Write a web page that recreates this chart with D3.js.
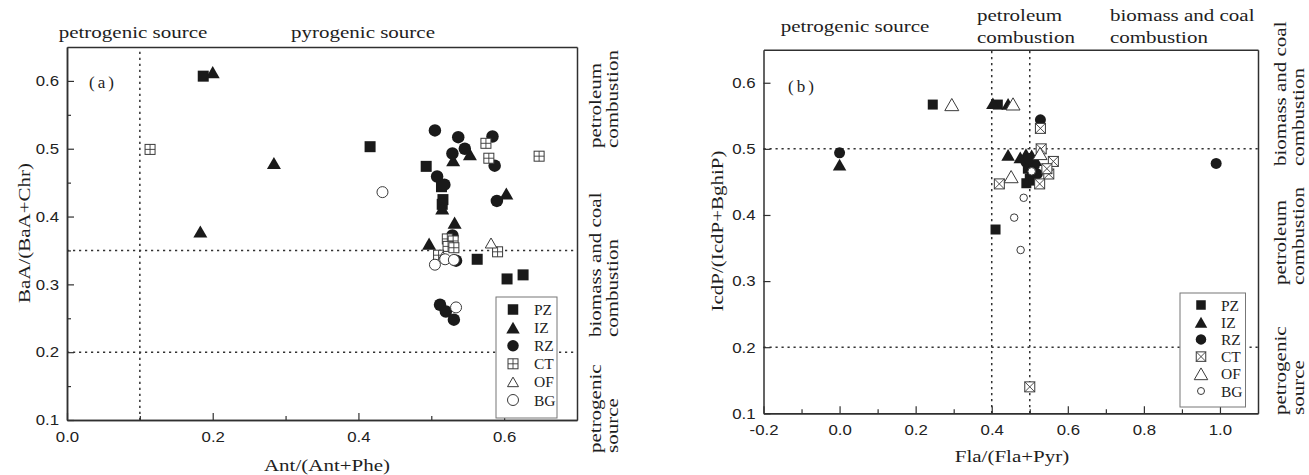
<!DOCTYPE html>
<html><head><meta charset="utf-8">
<script src="https://cdn.jsdelivr.net/npm/d3@7"></script>
<style>body{margin:0;background:#fff}</style>
</head><body>
<svg id="c" width="1309" height="475"></svg>
<script>
// ---------- DATA ----------
const seriesNames = ["PZ", "IZ", "RZ", "CT", "OF", "BG"];

// Panel (a): Ant/(Ant+Phe) vs BaA/(BaA+Chr)
const aPZ = [[0.187,0.607],[0.416,0.503],[0.493,0.474],[0.514,0.444],[0.516,0.425],[0.515,0.418],[0.563,0.337],[0.604,0.308],[0.626,0.314]];
const aIZ = [[0.200,0.613],[0.284,0.479],[0.183,0.378],[0.530,0.483],[0.553,0.492],[0.603,0.434],[0.515,0.412],[0.532,0.391],[0.497,0.360]];
const aRZ = [[0.505,0.527],[0.537,0.517],[0.584,0.518],[0.529,0.493],[0.546,0.500],[0.587,0.475],[0.508,0.459],[0.518,0.447],[0.590,0.423],[0.529,0.372],[0.534,0.335],[0.512,0.270],[0.520,0.260],[0.531,0.248]];
const aCT = [[0.114,0.499],[0.575,0.508],[0.579,0.486],[0.648,0.489],[0.522,0.367],[0.530,0.364],[0.523,0.356],[0.531,0.354],[0.591,0.348],[0.510,0.343]];
const aOF = [[0.582,0.361],[0.516,0.341]];
const aBG = [[0.433,0.436],[0.505,0.329],[0.519,0.337],[0.531,0.336],[0.534,0.266]];

// Panel (b): Fla/(Fla+Pyr) vs IcdP/(IcdP+BghiP)
const bPZ = [[0.245,0.567],[0.416,0.567],[0.410,0.378],[0.491,0.448],[0.500,0.455],[0.510,0.452],[0.495,0.470]];
const bIZ = [[0.000,0.476],[0.403,0.569],[0.443,0.568],[0.443,0.491],[0.475,0.487],[0.490,0.492],[0.505,0.490],[0.515,0.483]];
const bRZ = [[0.000,0.494],[0.528,0.544],[0.990,0.478],[0.490,0.480],[0.500,0.472],[0.512,0.475],[0.505,0.466],[0.520,0.462],[0.498,0.485]];
const bCT = [[0.528,0.531],[0.530,0.500],[0.562,0.481],[0.550,0.462],[0.526,0.447],[0.420,0.447],[0.500,0.140],[0.545,0.470]];
const bOF = [[0.295,0.567],[0.456,0.568],[0.527,0.493],[0.451,0.458]];
const bBG = [[0.505,0.466],[0.484,0.426],[0.459,0.396],[0.476,0.347]];

// ticks
const aXTicks = [0, 0.2, 0.4, 0.6], aXMinor = [0.1, 0.3, 0.5];
const aYTicks = [0.1, 0.2, 0.3, 0.4, 0.5, 0.6], aYMinor = [0.15, 0.25, 0.35, 0.45, 0.55];
const bXTicks = [-0.2, 0, 0.2, 0.4, 0.6, 0.8, 1.0], bXMinor = [-0.1, 0.1, 0.3, 0.5, 0.7, 0.9];
const bYTicks = [0.1, 0.2, 0.3, 0.4, 0.5, 0.6];

// reference lines
const aVRef = [0.1], aHRef = [0.35, 0.2];
const bVRef = [0.4, 0.5], bHRef = [0.5, 0.2];

// ---------- DRAW ----------
const svg = d3.select("#c");
const INK = "#1a1a1a", EDGE = "#3a3a3a", AX = "#303030";
const SERIF = "'Liberation Serif','Times New Roman',serif";
const SANS = "'Liberation Sans',Arial,sans-serif";
const FS = 17.5, ST = 1.2;

function label(g, txt, x, y, o = {}) {
  const rot = o.rot || 0, st = o.st || ST, size = o.size || FS;
  g.append("text").text(txt)
    .attr("transform", `translate(${x},${y}) rotate(${rot}) scale(${st},1)`)
    .attr("text-anchor", o.anchor || "start")
    .attr("letter-spacing", o.ls || 0)
    .attr("font-family", o.font || SERIF).attr("font-size", size).attr("fill", "#1e1e1e");
}

function marker(g, type, cx, cy, s) {
  if (type === "square") {
    g.append("rect").attr("x", cx - s/2).attr("y", cy - s/2).attr("width", s).attr("height", s).attr("fill", INK);
  } else if (type === "triangle" || type === "otri") {
    const h = s * 0.87;
    const p = `M${cx},${cy - h/2}L${cx + s/2},${cy + h/2}L${cx - s/2},${cy + h/2}Z`;
    if (type === "triangle") g.append("path").attr("d", p).attr("fill", INK);
    else g.append("path").attr("d", p).attr("fill", "#fff").attr("stroke", EDGE).attr("stroke-width", 1);
  } else if (type === "circle") {
    g.append("circle").attr("cx", cx).attr("cy", cy).attr("r", s/2).attr("fill", INK);
  } else if (type === "ocircle") {
    g.append("circle").attr("cx", cx).attr("cy", cy).attr("r", s/2 - 0.5).attr("fill", "#fff").attr("stroke", EDGE).attr("stroke-width", 1);
  } else if (type === "sqplus" || type === "sqx") {
    g.append("rect").attr("x", cx - s/2).attr("y", cy - s/2).attr("width", s).attr("height", s)
      .attr("fill", "#fff").attr("stroke", EDGE).attr("stroke-width", 1);
    const d = type === "sqplus"
      ? `M${cx},${cy - s/2}V${cy + s/2}M${cx - s/2},${cy}H${cx + s/2}`
      : `M${cx - s/2},${cy - s/2}L${cx + s/2},${cy + s/2}M${cx + s/2},${cy - s/2}L${cx - s/2},${cy + s/2}`;
    g.append("path").attr("d", d).attr("stroke", EDGE).attr("stroke-width", 0.9).attr("fill", "none");
  }
}

function panel(cfg) {
  const { x, y } = cfg;
  const g = svg.append("g");
  const [x0, x1] = x.range(), [y0, y1] = y.range();

  // reference dotted lines
  cfg.vref.forEach(v => g.append("line").attr("x1", x(v)).attr("x2", x(v)).attr("y1", y0).attr("y2", y1)
    .attr("stroke", "#333").attr("stroke-width", 1.5).attr("stroke-dasharray", "2.2,3.8"));
  cfg.href.forEach(v => g.append("line").attr("x1", x0).attr("x2", x1).attr("y1", y(v)).attr("y2", y(v))
    .attr("stroke", "#333").attr("stroke-width", 1.5).attr("stroke-dasharray", "2.2,3.8"));

  // axes
  const f1 = d3.format(".1f");
  const fmt = d => f1(d).replace("\u2212", "-");
  const gx = g.append("g").attr("transform", `translate(0,${y0})`)
    .call(d3.axisBottom(x).tickValues(cfg.xt).tickSizeInner(-7).tickSizeOuter(0).tickPadding(11).tickFormat(fmt));
  gx.append("g").call(d3.axisBottom(x).tickValues(cfg.xm).tickSizeInner(-4).tickSizeOuter(0).tickFormat(""));
  const gy = g.append("g").attr("transform", `translate(${x0},0)`)
    .call(d3.axisLeft(y).tickValues(cfg.yt).tickSizeInner(-7).tickSizeOuter(0).tickPadding(8).tickFormat(fmt));
  if (cfg.ym) gy.append("g").call(d3.axisLeft(y).tickValues(cfg.ym).tickSizeInner(-4).tickSizeOuter(0).tickFormat(""));
  g.append("g").attr("transform", `translate(0,${y1})`).call(d3.axisTop(x).tickValues([]).tickSizeOuter(0));
  g.append("g").attr("transform", `translate(${x1},0)`).call(d3.axisRight(y).tickValues([]).tickSizeOuter(0));

  g.selectAll(".domain").attr("stroke", AX).attr("stroke-width", 1.5);
  g.selectAll(".tick line").attr("stroke", AX).attr("stroke-width", 1.2);
  gx.selectAll(".tick text").attr("font-family", SANS).attr("font-size", 15).attr("fill", "#222")
    .attr("transform", "scale(1.12,1)");
  gy.selectAll(".tick text").attr("font-family", SANS).attr("font-size", 15).attr("fill", "#222")
    .attr("x", -8 / 1.12).attr("transform", "scale(1.12,1)");

  // data markers
  const mg = g.append("g");
  cfg.series.forEach((pts, i) => {
    const [type, s] = cfg.spec[i];
    pts.forEach(p => marker(mg, type, x(p[0]), y(p[1]), s));
  });

  // legend
  const L = cfg.legend;
  g.append("rect").attr("x", L.x).attr("y", L.y).attr("width", L.w).attr("height", L.h)
    .attr("fill", "#fff").attr("stroke", "#777").attr("stroke-width", 1);
  seriesNames.forEach((n, i) => {
    const cy = L.r0 + i * L.dr;
    const [type, s] = cfg.lspec[i];
    marker(g, type, L.sx, cy, s);
    g.append("text").text(n).attr("x", L.tx).attr("y", cy + 5.5).attr("font-family", SERIF)
      .attr("font-size", 15.5).attr("fill", "#222");
  });
  return g;
}

// Panel (a)
const xA = d3.scaleLinear([0, 0.7], [67, 577]);
const yA = d3.scaleLinear([0.1, 0.65], [420, 47]);
const gA = panel({
  x: xA, y: yA, xt: aXTicks, xm: aXMinor, yt: aYTicks, ym: aYMinor, vref: aVRef, href: aHRef,
  series: [aPZ, aIZ, aRZ, aCT, aOF, aBG],
  spec: [["square", 11], ["triangle", 14], ["circle", 12.5], ["sqplus", 10], ["otri", 11.5], ["ocircle", 12]],
  lspec: [["square", 10.5], ["triangle", 13.5], ["circle", 11.5], ["sqplus", 10], ["otri", 11], ["ocircle", 12]],
  legend: { x: 496, y: 297, w: 61, h: 121, r0: 309.5, dr: 18.1, sx: 513, tx: 534 }
});
label(gA, "(a)", 89, 88, { st: 1.0, size: 17, ls: 3 });
label(gA, "petrogenic source", 133, 38, { anchor: "middle" });
label(gA, "pyrogenic source", 363, 38, { anchor: "middle" });
label(gA, "Ant/(Ant+Phe)", 327, 471, { anchor: "middle" });
label(gA, "BaA/(BaA+Chr)", 30, 233, { anchor: "middle", rot: -90 });
label(gA, "petroleum", 601, 148, { rot: -90 });
label(gA, "combustion", 618, 148, { rot: -90 });
label(gA, "biomass and coal", 601, 337, { rot: -90 });
label(gA, "combustion", 618, 337, { rot: -90 });
label(gA, "petrogenic", 601, 453, { rot: -90 });
label(gA, "source", 618, 453, { rot: -90 });

// Panel (b)
const xB = d3.scaleLinear([-0.2, 1.1], [763.5, 1258]);
const yB = d3.scaleLinear([0.1, 0.65], [413.3, 49.7]);
const gB = panel({
  x: xB, y: yB, xt: bXTicks, xm: bXMinor, yt: bYTicks, ym: null, vref: bVRef, href: bHRef,
  series: [bPZ, bIZ, bRZ, bCT, bOF, bBG],
  spec: [["square", 10], ["triangle", 13.5], ["circle", 11], ["sqx", 10], ["otri", 14], ["ocircle", 8.5]],
  lspec: [["square", 9.5], ["triangle", 12.5], ["circle", 10.5], ["sqx", 9.5], ["otri", 13.5], ["ocircle", 8]],
  legend: { x: 1180, y: 293, w: 65.5, h: 114, r0: 305, dr: 17.2, sx: 1201, tx: 1221 }
});
label(gB, "(b)", 788, 92, { st: 1.0, size: 17, ls: 3 });
label(gB, "petrogenic source", 855, 32, { anchor: "middle" });
label(gB, "petroleum", 977, 21);
label(gB, "combustion", 977, 43);
label(gB, "biomass and coal", 1110, 21);
label(gB, "combustion", 1110, 43);
label(gB, "Fla/(Fla+Pyr)", 1012, 462, { anchor: "middle" });
label(gB, "IcdP/(IcdP+BghiP)", 723, 231, { anchor: "middle", rot: -90 });
label(gB, "biomass and coal", 1286, 166, { rot: -90 });
label(gB, "combustion", 1304, 166, { rot: -90 });
label(gB, "petroleum", 1286, 285, { rot: -90 });
label(gB, "combustion", 1304, 285, { rot: -90 });
label(gB, "petrogenic", 1286, 415, { rot: -90 });
label(gB, "source", 1304, 415, { rot: -90 });
</script>
</body></html>
